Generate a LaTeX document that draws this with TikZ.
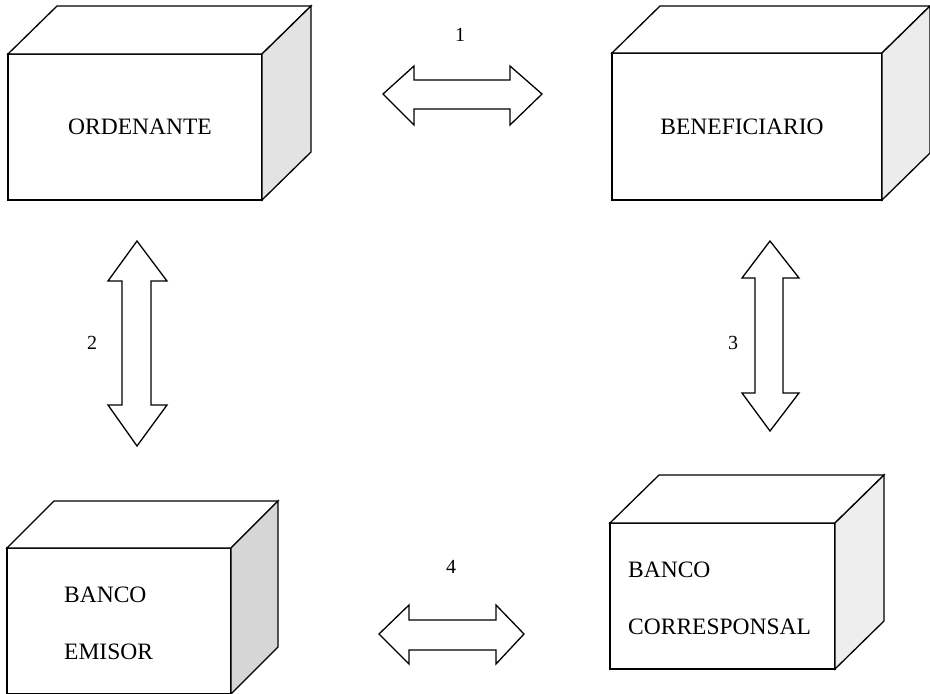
\documentclass[tikz,border=0pt]{standalone}
\usepackage{fontspec}
\setmainfont{Liberation Serif}
\tikzset{
  front/.style={draw, fill=white, line width=1.3pt, inner sep=0pt, outer sep=0pt, line join=miter},
  topface/.style={draw, fill=white, line width=1.3pt, line join=miter},
  sideface/.style={draw, fill=gray!18, line width=1.3pt, line join=miter},
  boxtext/.style={inner sep=0pt, font=\fontsize{23.5}{28}\selectfont},
  numlabel/.style={inner sep=0pt, font=\fontsize{20}{24}\selectfont},
  blockarrow/.style={draw, fill=white, line width=1.3pt, line join=miter}
}
\begin{document}
\begin{tikzpicture}[x=1pt, y=-1pt]
\useasboundingbox (0,0) rectangle (930,694);

% ORDENANTE
\node[front, minimum width=254pt, minimum height=146pt] (b1) at (135,127) {};
\draw[topface] (b1.north west) -- ++(49,-48) -- ++(254,0) -- (b1.north east) -- cycle;
\draw[sideface, fill=gray!22] (b1.north east) -- ++(49,-48) -- ++(0,146) -- (b1.south east) -- cycle;
\node[boxtext] (t1) at (140,127) {ORDENANTE};

% BENEFICIARIO
\node[front, minimum width=270pt, minimum height=147pt] (b2) at (747,126.5) {};
\draw[topface] (b2.north west) -- ++(48,-47) -- ++(270,0) -- (b2.north east) -- cycle;
\draw[sideface, fill=gray!15] (b2.north east) -- ++(48,-47) -- ++(0,147) -- (b2.south east) -- cycle;
\node[boxtext] (t2) at (742,127) {BENEFICIARIO};

% BANCO EMISOR
\node[front, minimum width=224pt, minimum height=146pt] (b3) at (119,621) {};
\draw[topface] (b3.north west) -- ++(47,-47) -- ++(224,0) -- (b3.north east) -- cycle;
\draw[sideface, fill=gray!32] (b3.north east) -- ++(47,-47) -- ++(0,146) -- (b3.south east) -- cycle;
\node[boxtext, anchor=west] (t3a) at (64,595) {BANCO};
\node[boxtext, anchor=west] (t3b) at (64,652) {EMISOR};

% BANCO CORRESPONSAL
\node[front, minimum width=225pt, minimum height=146pt] (b4) at (722.5,596) {};
\draw[topface] (b4.north west) -- ++(49,-48) -- ++(225,0) -- (b4.north east) -- cycle;
\draw[sideface, fill=gray!13] (b4.north east) -- ++(49,-48) -- ++(0,146) -- (b4.south east) -- cycle;
\node[boxtext, anchor=west] (t4a) at (628,570) {BANCO};
\node[boxtext, anchor=west] (t4b) at (628,627) {CORRESPONSAL};

% Arrow 1
\draw[blockarrow] (383,94) -- (414,66) -- (414,80) -- (510,80) -- (510,66) -- (542,94)
  -- (510,125) -- (510,109) -- (414,109) -- (414,125) -- cycle;
\node[numlabel] (n1) at (460,35) {1};

% Arrow 4
\draw[blockarrow] (379,634) -- (409,605) -- (409,620) -- (496,620) -- (496,605) -- (524,634)
  -- (496,664) -- (496,650) -- (409,650) -- (409,664) -- cycle;
\node[numlabel] (n4) at (451,567) {4};

% Arrow 2
\draw[blockarrow] (137,241) -- (167,281) -- (151,281) -- (151,405) -- (167,405) -- (137,446)
  -- (108,405) -- (122,405) -- (122,281) -- (108,281) -- cycle;
\node[numlabel] (n2) at (92,343) {2};

% Arrow 3
\draw[blockarrow] (770,241) -- (799,278) -- (783,278) -- (783,393) -- (799,393) -- (770,431)
  -- (742,393) -- (755,393) -- (755,278) -- (742,278) -- cycle;
\node[numlabel] (n3) at (733,343) {3};
\end{tikzpicture}
\end{document}
